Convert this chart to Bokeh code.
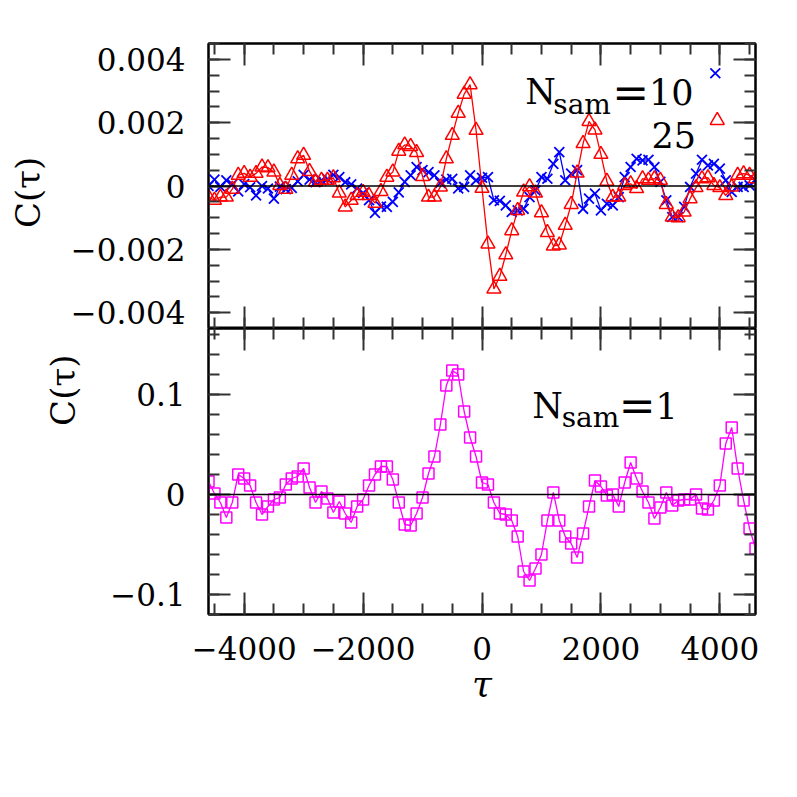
from math import pi
from bokeh.plotting import figure
from bokeh.models import (Range1d, LinearAxis, FixedTicker, CustomJSTickFormatter,
                          Span, Label, ColumnDataSource)
from bokeh.layouts import column, row
from bokeh.embed import file_html
from bokeh.resources import INLINE

# ---------------- data ----------------
tau = [-4600, -4500, -4400, -4300, -4200, -4100, -4000, -3900, -3800, -3700,
       -3600, -3500, -3400, -3300, -3200, -3100, -3000, -2900, -2800, -2700,
       -2600, -2500, -2400, -2300, -2200, -2100, -2000, -1900, -1800, -1700,
       -1600, -1500, -1400, -1300, -1200, -1100, -1000, -900, -800, -700,
       -600, -500, -400, -300, -200, -100, 0, 100, 200, 300,
       400, 500, 600, 700, 800, 900, 1000, 1100, 1200, 1300,
       1400, 1500, 1600, 1700, 1800, 1900, 2000, 2100, 2200, 2300,
       2400, 2500, 2600, 2700, 2800, 2900, 3000, 3100, 3200, 3300,
       3400, 3500, 3600, 3700, 3800, 3900, 4000, 4100, 4200, 4300,
       4400, 4500, 4600]

c_nsam10 = [0.0, 0.0002, -0.00003, 0.00018, 0.00005, -0.00017, 0.00006, -0.00004, -0.0003, 0.0,
            -0.00008, -0.0004, -0.00002, -0.0001, -0.00006, 0.00015, 0.00035, 0.0002, 0.00012, 0.00018,
            0.00022, 0.00035, 0.00028, 0.00012, 0.00005, -0.00008, -0.00022, -0.00045, -0.00085, -0.00065,
            -0.00066, -0.0005, -0.0002, 0.00013, 0.00034, 0.0006, 0.0005, 0.00044, 0.00034, 0.0001,
            0.0002, 0.00023, -0.00008, -0.00003, 0.00034, 0.00018, 0.00026, 0.00028, -0.00045, -0.00047,
            -0.00061, -0.00082, -0.00077, -0.00072, -0.00035, -0.00014, 0.00028, 0.00023, 0.0007, 0.00107,
            0.00018, 0.00039, 0.0005, -0.00072, -0.0004, -0.00024, -0.00077, -0.00056, -0.00061, -0.00035,
            0.00028, 0.0006, 0.00086, 0.00081, 0.00083, 0.0006, 0.00013, -0.00045, -0.00098, -0.00098,
            -0.00066, -0.00003, 0.00039, 0.00083, 0.00065, 0.0007, 0.00055, 0.00018, -0.00019, -0.00003,
            -0.00003, 0.00002, 0.00018]

c_nsam25 = [-0.00035, -0.00045, -0.00035, -0.00035, -0.0001, 0.00034, 0.0004, 0.00028, 0.0004, 0.0006,
            0.00058, 0.00044, 0.00002, -0.0001, 0.00034, 0.00086, 0.00097, 0.00046, 0.00013, 0.00018,
            0.00018, 0.00026, -0.00022, -0.00066, -0.00045, -0.0003, -0.0002, -0.0003, -0.00054, -0.00017,
            0.00028, 0.00044, 0.0011, 0.0013, 0.00125, 0.00106, 0.0003, -0.00035, -0.00035, -0.00003,
            0.00086, 0.0016, 0.0023, 0.0029, 0.0032, 0.00176, -0.00007, -0.00183, -0.00325, -0.00285,
            -0.00217, -0.00141, -0.00077, -0.00019, -0.00002, -0.00022, -0.00084, -0.00147, -0.00189, -0.00186,
            -0.00124, -0.00058, 0.00041, 0.00134, 0.00204, 0.00177, 0.001, 0.00015, -0.00035, -0.00035,
            0.00002, 0.00007, -0.00008, 0.00023, 0.00018, 0.00023, 0.00018, -0.00058, -0.00098, -0.001,
            -0.00082, -0.0004, -0.00005, 0.00023, 0.00026, 0.00002, -0.00005, -0.0003, -0.00003, 0.00034,
            0.00039, 0.00034, 0.00023]

c_nsam1 = [0.013, 0.001, -0.008, -0.023, -0.008, 0.020, 0.016, 0.009, -0.008, -0.020,
           -0.012, -0.005, -0.003, 0.010, 0.016, 0.018, 0.026, 0.007, -0.008, 0.003,
           -0.004, -0.018, -0.007, -0.019, -0.028, -0.012, -0.005, 0.009, 0.020, 0.028,
           0.028, 0.015, -0.008, -0.030, -0.031, -0.019, -0.003, 0.021, 0.038, 0.070,
           0.109, 0.124, 0.120, 0.083, 0.057, 0.038, 0.012, 0.010, -0.008, -0.019,
           -0.020, -0.026, -0.042, -0.077, -0.086, -0.074, -0.060, -0.026, 0.002, -0.026,
           -0.042, -0.049, -0.063, -0.039, -0.012, 0.014, 0.008, -0.001, 0.000, -0.012,
           0.012, 0.032, 0.016, 0.003, -0.008, -0.024, -0.013, 0.002, -0.011, -0.006,
           -0.005, -0.005, 0.000, -0.014, -0.015, -0.006, 0.009, 0.051, 0.067, 0.026,
           -0.006, -0.034, -0.054]

x_major = [-4000, -2000, 0, 2000, 4000]
x_minor = [-4500, -4000, -3500, -3000, -2500, -2000, -1500, -1000, -500, 0,
           500, 1000, 1500, 2000, 2500, 3000, 3500, 4000, 4500]
top_major = [-0.004, -0.002, 0, 0.002, 0.004]
top_minor = [-0.0045, -0.004, -0.0035, -0.003, -0.0025, -0.002, -0.0015, -0.001, -0.0005, 0,
             0.0005, 0.001, 0.0015, 0.002, 0.0025, 0.003, 0.0035, 0.004, 0.0045]
bot_major = [-0.1, 0, 0.1]
bot_minor = [-0.12, -0.1, -0.08, -0.06, -0.04, -0.02, 0, 0.02, 0.04, 0.06, 0.08,
             0.1, 0.12, 0.14, 0.16]

# ---------------- style / layout ----------------
FONT = "DejaVu Serif"
TICK_FONT_SIZE = "31px"
FRAME_X = 208                    # page x of both frames' left edge
SIDE_TOP_W, SIDE_BOT_W = 60, 90  # strips holding the rotated y titles
RIGHT, TOP = 34, 43
FRAME_W, TOP_H, BOT_H = 547, 285, 286
X_RANGE = (-4600, 4600)
TOP_RANGE = (-0.0045, 0.0045)
BOT_RANGE = (-0.12, 0.166)

fmt = CustomJSTickFormatter(code="""
if (Math.abs(tick) < 1e-12) { return "0"; }
var s = Math.abs(tick).toString();
return (tick < 0 ? "\\u2212" : "") + s;
""")


def make_axis(major, minor, labels, standoff=22):
    ax = LinearAxis(ticker=FixedTicker(ticks=major, minor_ticks=minor), formatter=fmt)
    ax.major_tick_in = 22
    ax.major_tick_out = 0
    ax.minor_tick_in = 11
    ax.minor_tick_out = 0
    ax.major_tick_line_width = 2
    ax.minor_tick_line_width = 2
    ax.major_tick_line_color = "#333333"
    ax.minor_tick_line_color = "#333333"
    ax.axis_line_color = "black"
    ax.axis_line_width = 2
    if labels:
        ax.major_label_text_font = FONT
        ax.major_label_text_font_size = TICK_FONT_SIZE
        ax.major_label_text_color = "black"
        ax.major_label_text_line_height = 1.0
        ax.major_label_standoff = standoff
    else:
        ax.major_label_text_font_size = "1px"
        ax.major_label_text_color = None
        ax.major_label_standoff = 0
    return ax


def make_fig(frame_h, yr, left_border, top_border, bottom_border):
    p = figure(frame_width=FRAME_W, frame_height=frame_h,
               x_range=Range1d(*X_RANGE), y_range=Range1d(*yr),
               x_axis_location=None, y_axis_location=None,
               output_backend="svg", toolbar_location=None,
               min_border_left=left_border, min_border_right=RIGHT,
               min_border_top=top_border, min_border_bottom=bottom_border)
    p.xgrid.visible = False
    p.ygrid.visible = False
    p.outline_line_color = "black"
    p.outline_line_width = 2
    p.background_fill_color = "white"
    p.border_fill_color = "white"
    p.add_layout(Span(location=0, dimension="width", line_color="black", line_width=1.5))
    return p


def side_strip(width, height, label_x, label_y):
    s = figure(width=width, height=height, x_range=Range1d(0, width),
               y_range=Range1d(height, 0), x_axis_location=None, y_axis_location=None,
               output_backend="svg", toolbar_location=None, min_border=0)
    s.xgrid.visible = False
    s.ygrid.visible = False
    s.outline_line_color = None
    s.add_layout(Label(x=label_x, y=label_y, text="C(τ)", text_font=FONT,
                       text_font_size="34px", text_color="black", angle=pi / 2,
                       text_align="center", text_baseline="middle"))
    return s


LEG_FONT = "35px"
SUB_FONT = "28px"
EQ_FONT = "44px"


def text(p, x, y, s, size):
    p.add_layout(Label(x=x, y=y, text=s, text_font=FONT, text_font_size=size,
                       text_color="black", text_baseline="alphabetic"))


# ---------- top panel ----------
top = make_fig(TOP_H, TOP_RANGE, FRAME_X - SIDE_TOP_W, TOP, 0)
top.add_layout(make_axis(top_major, top_minor, True, 23), "left")
top.add_layout(make_axis(top_major, top_minor, False), "right")
top.add_layout(make_axis(x_major, x_minor, False), "above")
top.add_layout(make_axis(x_major, x_minor, False), "below")

src10 = ColumnDataSource(dict(tau=tau, c=c_nsam10))
src25 = ColumnDataSource(dict(tau=tau, c=c_nsam25))
top.line("tau", "c", source=src10, line_color="blue", line_width=1.3)
top.scatter("tau", "c", source=src10, marker="x", size=14, line_color="blue", line_width=1.8)
top.line("tau", "c", source=src25, line_color="red", line_width=1.3)
top.scatter("tau", "c", source=src25, marker="triangle", size=14, line_color="red",
            fill_color=None, line_width=1.5)

# legend (text + keys), placed in data units of the top panel
text(top, 728, 0.00296, "N", LEG_FONT)
text(top, 1199, 0.00258, "sam", SUB_FONT)
text(top, 2190, 0.00296, "=", EQ_FONT)
text(top, 2810, 0.00296, "10", LEG_FONT)
text(top, 2850, 0.0016, "25", LEG_FONT)
top.scatter(x=[3924], y=[0.00356], marker="x", size=14, line_color="blue", line_width=1.8)
top.scatter(x=[3957], y=[0.00207], marker="triangle", size=14, line_color="red",
            fill_color=None, line_width=1.5)

# ---------- bottom panel ----------
bot = make_fig(BOT_H, BOT_RANGE, FRAME_X - SIDE_BOT_W, 0, 10)
bot.add_layout(make_axis(bot_major, bot_minor, True, 23), "left")
bot.add_layout(make_axis(bot_major, bot_minor, False), "right")
bot.add_layout(make_axis(x_major, x_minor, False), "above")
xb = make_axis(x_major, x_minor, True, 22)
xb.axis_label = "τ"
xb.axis_label_text_font = FONT
xb.axis_label_text_font_style = "italic"
xb.axis_label_text_font_size = "36px"
xb.axis_label_text_color = "black"
xb.axis_label_standoff = 0
bot.add_layout(xb, "below")

src1 = ColumnDataSource(dict(tau=tau, c=c_nsam1))
bot.line("tau", "c", source=src1, line_color="magenta", line_width=1.3)
bot.scatter("tau", "c", source=src1, marker="square", size=11, line_color="magenta",
            fill_color=None, line_width=1.5)

text(bot, 846, 0.089, "N", LEG_FONT)
text(bot, 1340, 0.077, "sam", SUB_FONT)
text(bot, 2300, 0.089, "=", EQ_FONT)
text(bot, 2920, 0.089, "1", LEG_FONT)

# ---------- rotated y titles ----------
side_top = side_strip(SIDE_TOP_W, 320, 27, 172)
side_bot = side_strip(SIDE_BOT_W, 300, 62, 89)

layout = column(row(side_top, top, spacing=0), row(side_bot, bot, spacing=0), spacing=0)
with open("out.html", "w", encoding="utf-8") as f:
    f.write(file_html(layout, INLINE))
